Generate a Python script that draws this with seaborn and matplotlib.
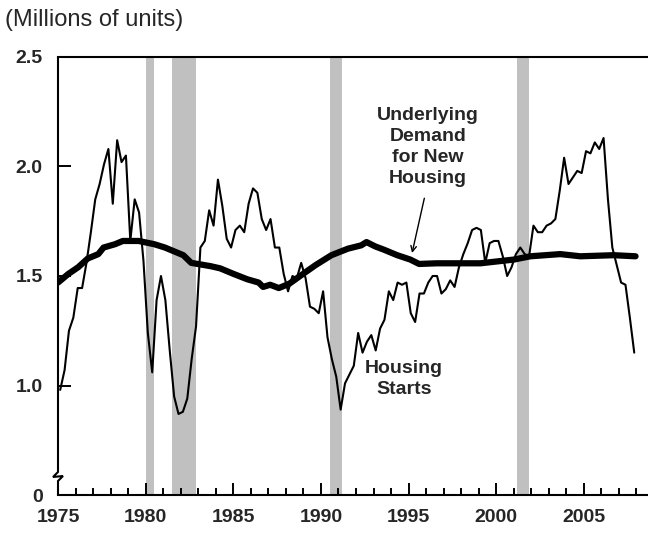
import numpy as np
import pandas as pd
import matplotlib
matplotlib.use("Agg")
import matplotlib.pyplot as plt
import seaborn as sns

# ---------------- data ----------------
# Quarterly housing starts, millions of units, 1975Q1 .. 2007Q4
starts_1975_1984 = [0.98, 1.07, 1.25, 1.31,
                    1.445, 1.445, 1.56, 1.70,
                    1.85, 1.92, 2.01, 2.08,
                    1.83, 2.12, 2.02, 2.05,
                    1.66, 1.85, 1.79, 1.57,
                    1.24, 1.06, 1.39, 1.50,
                    1.39, 1.16, 0.95, 0.87,
                    0.88, 0.94, 1.12, 1.27,
                    1.63, 1.66, 1.80, 1.73,
                    1.94, 1.82, 1.67, 1.63]
starts_1985_1994 = [1.71, 1.73, 1.70, 1.83,
                    1.90, 1.88, 1.76, 1.71,
                    1.76, 1.63, 1.63, 1.51,
                    1.43, 1.50, 1.49, 1.56,
                    1.49, 1.36, 1.35, 1.33,
                    1.43, 1.22, 1.12, 1.04,
                    0.89, 1.01, 1.05, 1.09,
                    1.24, 1.15, 1.20, 1.23,
                    1.16, 1.26, 1.30, 1.43,
                    1.39, 1.47, 1.46, 1.47]
starts_1995_2007 = [1.33, 1.29, 1.42, 1.42,
                    1.47, 1.50, 1.50, 1.42,
                    1.44, 1.48, 1.45, 1.54,
                    1.60, 1.65, 1.71, 1.72,
                    1.71, 1.56, 1.65, 1.66,
                    1.66, 1.59, 1.50, 1.54,
                    1.60, 1.63, 1.60, 1.59,
                    1.73, 1.70, 1.70, 1.73,
                    1.74, 1.76, 1.89, 2.04,
                    1.92, 1.95, 1.98, 1.97,
                    2.07, 2.06, 2.11, 2.08,
                    2.13, 1.85, 1.63, 1.55,
                    1.47, 1.46, 1.31, 1.15]
starts_first_year = 1975

# Underlying demand for new housing (year, millions of units)
demand_years = [1975.0, 1975.6, 1976.15, 1976.7, 1977.3, 1977.6, 1978.25, 1978.7,
                1979.6, 1980.5, 1981.1, 1981.4, 1982.15, 1982.6, 1983.7, 1984.25,
                1985.0, 1985.8, 1986.45, 1986.7, 1987.1, 1987.6, 1988.2, 1988.9,
                1989.7, 1990.6, 1991.55, 1992.3, 1992.6, 1993.1, 1993.6, 1994.35,
                1995.1, 1995.6, 1996.6, 1997.75, 1999.1, 2001.0, 2001.95, 2003.65,
                2004.8, 2006.7, 2007.95]
demand_values = [1.47, 1.51, 1.54, 1.58, 1.60, 1.63, 1.645, 1.66,
                 1.66, 1.645, 1.63, 1.62, 1.595, 1.56, 1.545, 1.535,
                 1.51, 1.485, 1.47, 1.45, 1.46, 1.445, 1.465, 1.505,
                 1.55, 1.595, 1.625, 1.64, 1.655, 1.635, 1.62, 1.595,
                 1.575, 1.555, 1.558, 1.558, 1.558, 1.575, 1.59, 1.60,
                 1.59, 1.595, 1.59]

# Recessions (start, end)
recession_start = [1980.0, 1981.5, 1990.5, 2001.2]
recession_end = [1980.5, 1982.9, 1991.2, 2001.85]

y_ticks = [0.5, 1.0, 1.5, 2.0, 2.5]
y_tick_labels = ["0", "1.0", "1.5", "2.0", "2.5"]
x_major = [1975, 1980, 1985, 1990, 1995, 2000, 2005]

# ---------------- build frames ----------------
starts_values = starts_1975_1984 + starts_1985_1994 + starts_1995_2007
starts_df = pd.DataFrame({
    "year": starts_first_year + np.arange(len(starts_values)) / 4 + 0.125,
    "value": starts_values,
})
demand_df = pd.DataFrame({"year": demand_years, "value": demand_values})

# ---------------- style ----------------
sns.set_style("ticks")
plt.rcParams["font.family"] = ["Liberation Sans", "DejaVu Sans"]

fig = plt.figure(figsize=(6.48, 5.35), dpi=100)
ax = fig.add_axes([58 / 648, 40 / 535, 590 / 648, 438 / 535])

for s, e in zip(recession_start, recession_end):
    ax.axvspan(s, e, color="#c0c0c0", lw=0, zorder=0)

sns.lineplot(data=starts_df, x="year", y="value", ax=ax, color="black",
             lw=1.5, sort=False, zorder=3)
sns.lineplot(data=demand_df, x="year", y="value", ax=ax, color="black",
             lw=4.5, sort=False, zorder=4)

ax.set_xlim(1975.0, 2008.66)
ax.set_ylim(0.5, 2.5)
ax.set_xlabel("")
ax.set_ylabel("")

ax.set_xticks(x_major)
ax.set_xticks(np.arange(1975, 2009, 1), minor=True)
ax.set_yticks(y_ticks)
ax.set_yticklabels(y_tick_labels)

ax.tick_params(axis="x", which="major", direction="in", length=9, width=1.4,
               pad=10, labelsize=14, color="black", bottom=True, top=False)
ax.tick_params(axis="x", which="minor", direction="in", length=5, width=1.4,
               color="black", bottom=True, top=False)
ax.tick_params(axis="y", which="major", direction="in", length=9, width=1.4,
               pad=11, labelsize=14, color="black", left=True, right=False)
ax.tick_params(axis="y", which="minor", left=False, right=False)
for lab in ax.get_xticklabels() + ax.get_yticklabels():
    lab.set_fontweight("bold")

for side in ["top", "bottom"]:
    ax.spines[side].set_visible(True)
    ax.spines[side].set_color("black")
    ax.spines[side].set_linewidth(1.5)
ax.spines["right"].set_visible(False)
ax.spines["left"].set_visible(False)

# left axis line with break symbol
h = 438.0
w = 590.0
bx = [0, 0, -5 / w, 5 / w, 0, 0]
by = [1, 23 / h, 18 / h, 19 / h, 14 / h, 0]
ax.plot(bx, by, transform=ax.transAxes, color="black", lw=1.5,
        clip_on=False, zorder=6, solid_joinstyle="miter")

# annotations
ax.text(1996.1, 2.09, "Underlying\nDemand\nfor New\nHousing", ha="center",
        va="center", fontsize=14, fontweight="bold", linespacing=1.3,
        multialignment="center")
ax.annotate("", xy=(1995.2, 1.605), xytext=(1995.9, 1.855),
            arrowprops=dict(arrowstyle="->", color="black", lw=1.0,
                            shrinkA=0, shrinkB=0))
ax.text(1994.75, 1.03, "Housing\nStarts", ha="center", va="center",
        fontsize=14, fontweight="bold", linespacing=1.3,
        multialignment="center")

fig.text(5 / 648, 1 - 20 / 535, "(Millions of units)", ha="left",
         va="center", fontsize=17)

fig.savefig("out.png", dpi=100)
